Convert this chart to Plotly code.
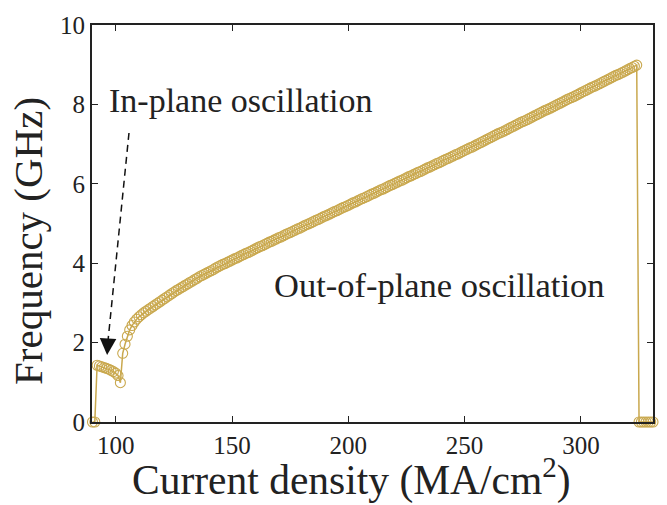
import plotly.graph_objects as go

# current density (MA/cm^2), step 1
current = list(range(90, 332))

freq_low = [0.00, 0.00,                                   # 90-91
            1.43, 1.41, 1.39, 1.37, 1.35, 1.33, 1.30, 1.27, 1.23, 1.17,  # 92-101
            0.99]                                          # 102
freq_rise = [1.73, 1.96, 2.16, 2.32, 2.43, 2.52, 2.59, 2.65, 2.70, 2.75,  # 103-112
             2.79, 2.83, 2.87, 2.91, 2.95, 2.99, 3.03, 3.07, 3.11, 3.15,  # 113-122
             3.19, 3.23, 3.27, 3.31, 3.34, 3.38, 3.41, 3.45, 3.48, 3.52,  # 123-132
             3.55, 3.59, 3.62, 3.66, 3.69, 3.72, 3.75, 3.78, 3.81, 3.84,  # 133-142
             3.88, 3.91, 3.94, 3.97, 3.99, 4.02, 4.05, 4.08, 4.11, 4.13,  # 143-152
             4.16, 4.19, 4.22, 4.25, 4.27, 4.30, 4.33, 4.36]             # 153-160
freq_mid = [4.39, 4.42, 4.44, 4.47, 4.50, 4.53, 4.55, 4.58, 4.61, 4.64,   # 161-170
            4.66, 4.69, 4.72, 4.75, 4.77, 4.80, 4.83, 4.86, 4.88, 4.91,   # 171-180
            4.94, 4.97, 4.99, 5.02, 5.05, 5.08, 5.10, 5.13, 5.16, 5.19,   # 181-190
            5.21, 5.24, 5.27, 5.30, 5.32, 5.35, 5.38, 5.41, 5.43, 5.46,   # 191-200
            5.49, 5.52, 5.54, 5.57, 5.60, 5.63, 5.65, 5.68, 5.71, 5.74,   # 201-210
            5.76, 5.79, 5.82, 5.85, 5.87, 5.90, 5.93, 5.96, 5.98, 6.01,   # 211-220
            6.04, 6.07, 6.09, 6.12, 6.15, 6.18, 6.20, 6.23, 6.26, 6.29,   # 221-230
            6.31, 6.34, 6.37, 6.40, 6.42, 6.45, 6.48, 6.51, 6.53, 6.56,   # 231-240
            6.59, 6.62, 6.64, 6.67, 6.70, 6.73, 6.75, 6.78, 6.81, 6.84]   # 241-250
freq_high = [6.87, 6.90, 6.92, 6.95, 6.98, 7.01, 7.04, 7.07, 7.10, 7.13,  # 251-260
             7.16, 7.19, 7.22, 7.25, 7.28, 7.30, 7.33, 7.36, 7.39, 7.42,  # 261-270
             7.45, 7.48, 7.51, 7.54, 7.57, 7.59, 7.62, 7.65, 7.68, 7.71,  # 271-280
             7.74, 7.77, 7.80, 7.83, 7.86, 7.88, 7.91, 7.94, 7.97, 8.00,  # 281-290
             8.03, 8.06, 8.09, 8.12, 8.15, 8.17, 8.20, 8.23, 8.26, 8.29,  # 291-300
             8.32, 8.35, 8.38, 8.41, 8.44, 8.46, 8.49, 8.52, 8.55, 8.58,  # 301-310
             8.61, 8.64, 8.67, 8.70, 8.73, 8.75, 8.78, 8.81, 8.84, 8.87,  # 311-320
             8.90, 8.93, 8.96, 8.99]                                      # 321-324
freq_off = [0.00, 0.00, 0.00, 0.00, 0.00, 0.00, 0.00]                     # 325-331

frequency = freq_low + freq_rise + freq_mid + freq_high + freq_off

x_ticks = [100, 150, 200, 250, 300]
y_ticks = [0, 2, 4, 6, 8, 10]

gold = "#C9A84E"
ink = "#222222"
font_family = "Liberation Serif, Times New Roman, serif"

fig = go.Figure()
fig.add_trace(go.Scatter(
    x=current, y=frequency, mode="lines+markers",
    line=dict(color=gold, width=1.5),
    marker=dict(symbol="circle-open", size=10, color=gold, line=dict(width=1.1, color=gold)),
    cliponaxis=False, showlegend=False, hoverinfo="skip",
))

axis_common = dict(
    showline=True, linecolor=ink, linewidth=2, mirror="allticks",
    ticks="inside", ticklen=6, tickwidth=1, tickcolor=ink,
    showgrid=False, zeroline=False,
    tickfont=dict(family=font_family, size=25, color=ink),
)

fig.update_layout(
    width=667, height=505,
    margin=dict(l=92, r=14, t=23, b=83),
    paper_bgcolor="white", plot_bgcolor="white",
    font=dict(family=font_family, color=ink),
    xaxis=dict(range=[89.8, 331], tickvals=x_ticks, ticktext=[str(v) for v in x_ticks], **axis_common),
    yaxis=dict(range=[0, 10], tickvals=y_ticks, ticktext=[str(v) for v in y_ticks], **axis_common),
    annotations=[
        dict(text="Current density (MA/cm<sup>2</sup>)", xref="paper", yref="paper",
             x=0.462, y=-0.069, xanchor="center", yanchor="top", showarrow=False,
             font=dict(size=41.5, family=font_family, color=ink)),
        dict(text="Frequency (GHz)", xref="paper", yref="paper", textangle=-90,
             x=-0.113, y=0.455, xanchor="center", yanchor="middle", showarrow=False,
             font=dict(size=41, family=font_family, color=ink)),
        dict(text="In-plane oscillation", xref="x", yref="y", x=96.6, y=8.1,
             xanchor="left", yanchor="middle", showarrow=False, borderpad=0,
             font=dict(size=34, family=font_family, color=ink)),
        dict(text="Out-of-plane oscillation", xref="x", yref="y", x=167.8, y=3.45,
             xanchor="left", yanchor="middle", showarrow=False, borderpad=0,
             font=dict(size=34.5, family=font_family, color=ink)),
        dict(text=" ", xref="x", yref="y", axref="x", ayref="y",
             x=96.3, y=1.69, ax=96.9, ay=2.3, showarrow=True,
             arrowhead=2, arrowsize=2.2, arrowwidth=1.5, arrowcolor="#111111"),
    ],
    shapes=[
        dict(type="line", xref="x", yref="y", x0=105.7, y0=7.28, x1=96.6, y1=2.0,
             line=dict(color="#111111", width=1.5, dash="7px,5px")),
    ],
)

fig.write_html("out.html", config={"displayModeBar": False},
               post_script="document.body.style.margin='0';document.body.style.overflow='hidden';")
